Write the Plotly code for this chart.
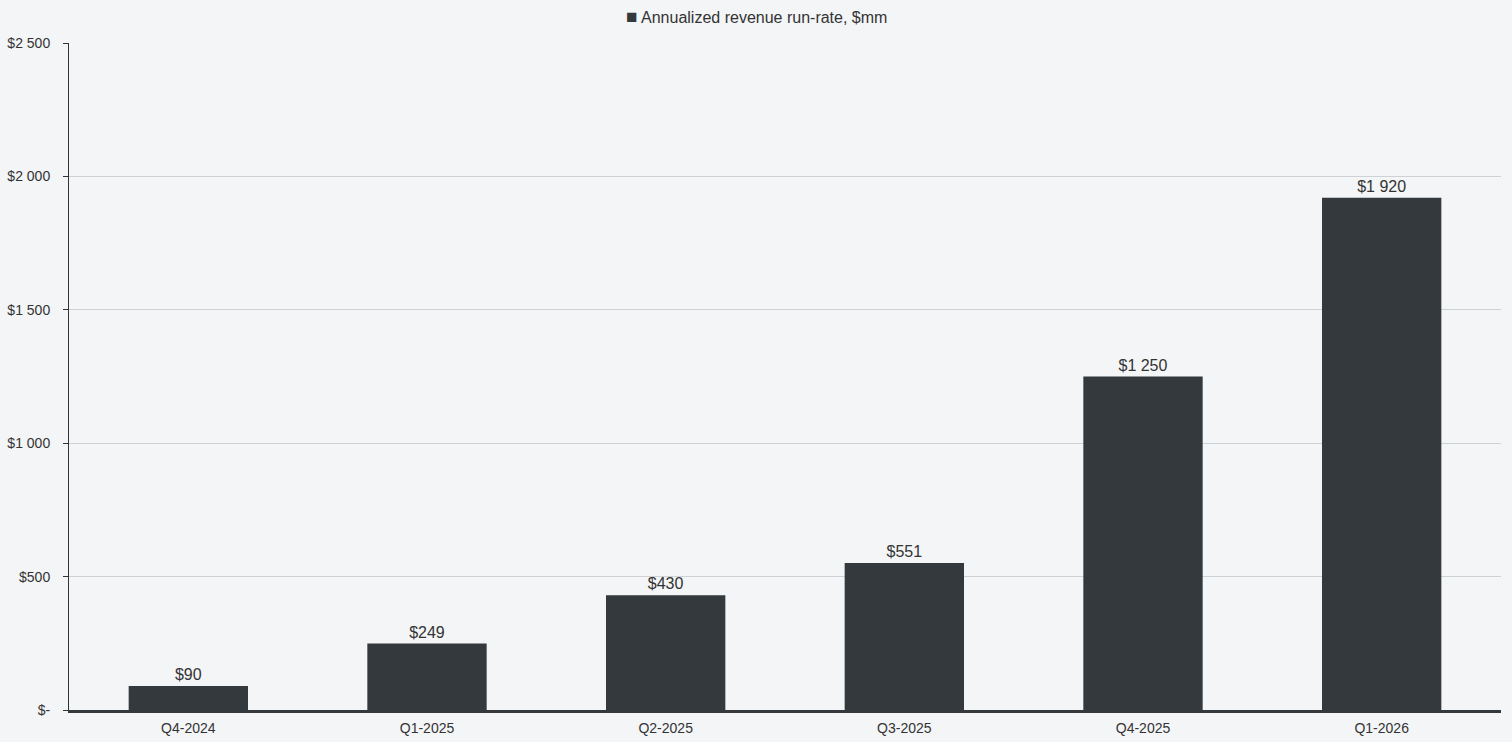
import plotly.graph_objects as go

# data
quarters = ['Q4-2024', 'Q1-2025', 'Q2-2025', 'Q3-2025', 'Q4-2025', 'Q1-2026']
run_rate = [90, 249, 430, 551, 1250, 1920]

y_ticks = [0, 500, 1000, 1500, 2000, 2500]
y_labels = ['$-', '$500', '$1 000', '$1 500', '$2 000', '$2 500']

series_name = 'Annualized revenue run-rate, $mm'

bar_color = '#33393c'
bg = '#f3f5f7'

W, H = 1512, 742
ml, mr, mt, mb = 69, 11, 43, 32

fig = go.Figure()
fig.add_trace(go.Bar(
    x=quarters,
    y=run_rate,
    name=series_name,
    marker=dict(color=bar_color, line=dict(width=0)),
    width=0.5,
    texttemplate='$%{y:,}',
    textposition='outside',
    textfont=dict(size=16, color='#333333'),
    cliponaxis=False,
    showlegend=False,
))

# legend drawn as a small square + label, centred on the page
fig.add_annotation(
    x=(W / 2 - ml) / (W - ml - mr), y=1 + (mt - 17) / (H - mt - mb),
    xref='paper', yref='paper',
    text='<span style="font-size:19px; color:' + bar_color + '">■</span> ' + series_name,
    showarrow=False, font=dict(size=16, color='#333333'),
    xanchor='center', yanchor='middle',
)

fig.update_layout(
    width=W, height=H,
    paper_bgcolor=bg, plot_bgcolor=bg,
    font=dict(family='Liberation Sans, Arial, sans-serif', color='#333333'),
    separators='. ',
    margin=dict(l=ml, r=mr, t=mt, b=mb, autoexpand=False),
    bargap=0.5,
)

fig.update_xaxes(
    showgrid=False,
    showline=True, linecolor=bar_color, linewidth=3,
    ticks='', tickfont=dict(size=14), ticklabelstandoff=3,
)
fig.update_yaxes(
    range=[0, 2500],
    tickvals=y_ticks, ticktext=y_labels,
    tickfont=dict(size=14),
    showgrid=True, gridcolor='#cfd2d4', gridwidth=1,
    showline=True, linecolor='#333333', linewidth=1,
    ticks='outside', ticklen=5, tickcolor='#333333',
    ticklabelstandoff=10,
    zeroline=False,
)

fig.write_html('out.html', config={'displayModeBar': False},
               post_script="document.body.style.margin='0';")
